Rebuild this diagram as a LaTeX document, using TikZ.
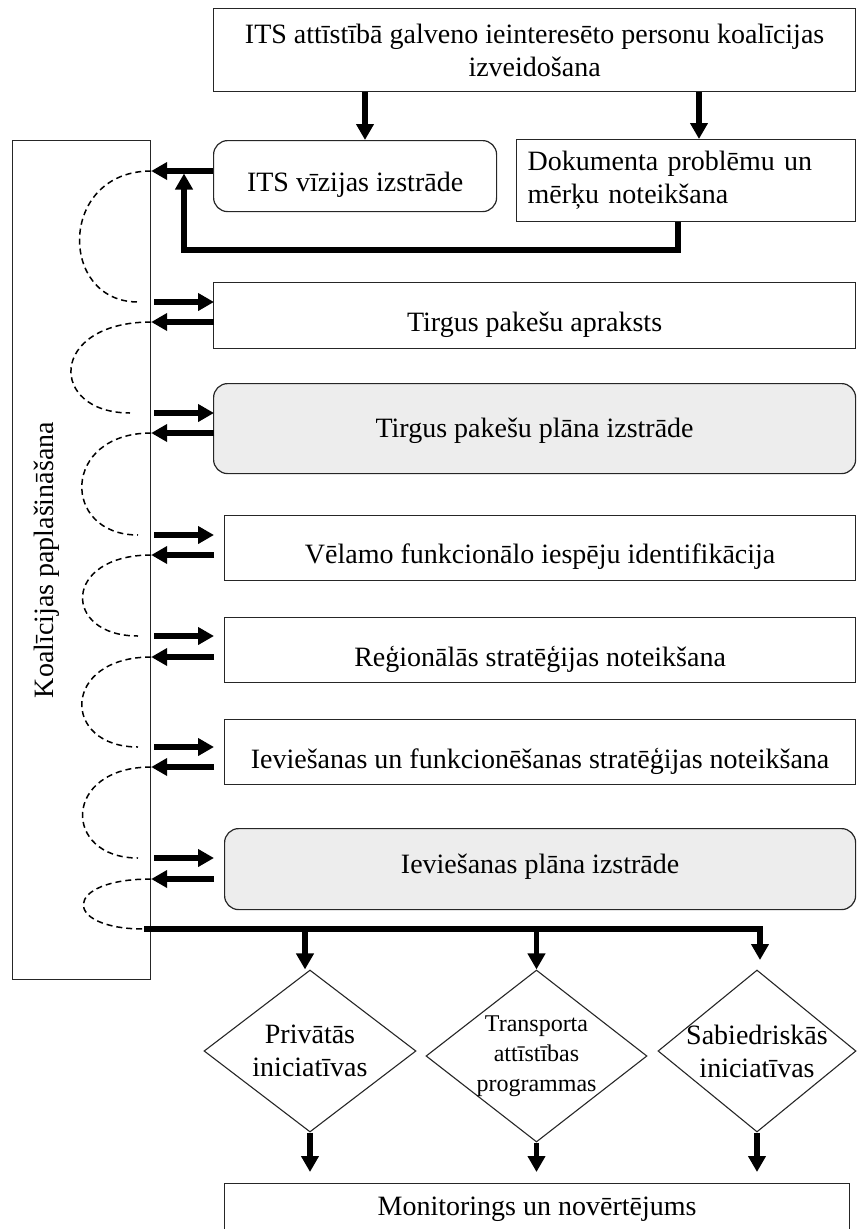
\documentclass[tikz,border=0pt]{standalone}
\usepackage{fontspec}
\setmainfont{Liberation Serif}
\usetikzlibrary{positioning,arrows.meta,shapes.geometric}
\definecolor{koalLine}{HTML}{262626}
\definecolor{koalFill}{HTML}{EDEDED}

\begin{document}
\begin{tikzpicture}[x=1pt, y=-1pt,
  procbox/.style={draw=koalLine, line width=1.2pt, anchor=north west, inner sep=0pt,
    align=center, font=\fontsize{28}{33}\selectfont},
  roundbox/.style={procbox, rounded corners=14pt, fill=koalFill},
  choice/.style={draw=koalLine, line width=1.1pt, shape=diamond, inner sep=-10pt,
    align=center, font=\fontsize{28}{33}\selectfont},
  fatarrow/.style={line width=5.5pt, -{Triangle[length=16pt,width=17pt]}},
  loopline/.style={line width=1.5pt, dash pattern=on 6pt off 4pt}]

% --- PARAMETERS ---
\def\xR{855}            % right edge of all boxes
\useasboundingbox (0,0) rectangle (857,1229);
\clip (0,0) rectangle (857,1229);
\coordinate (tipcol) at (214,0);

% --- TOP ROW ---
\node[procbox, minimum width=642pt, minimum height=83pt, yshift=0pt] (top) at (213,8)
  {ITS attīstībā galveno ieinteresēto personu koalīcijas\\izveidošana};
\node[roundbox, fill=white, minimum width=283pt, minimum height=71pt,
  text height=36pt, text depth=6pt] (vis)
  at (213,140) {ITS vīzijas izstrāde};
\node[procbox, minimum width=339pt, minimum height=82pt, text width=317pt,
  align=left, inner xsep=11pt] (doc) at (516,139)
  {Dokumenta problēmu un\\mērķu noteikšana};

\draw[fatarrow] (top.south -| 365,0) -- (vis.north -| 365,0);
\draw[fatarrow] (top.south -| 699,0) -- (doc.north -| 699,0);

% --- COALITION COLUMN ---
\node[procbox, minimum width=138pt, minimum height=839pt] (koal) at (12,140) {};
\node[rotate=90, font=\fontsize{28}{33}\selectfont] (koaltxt) at (koal.center -| 47,0)
  {Koalīcijas paplašināšana};

% --- FEEDBACK ---
\coordinate (fbcorner) at (184,250);
\draw[fatarrow] (vis.west |- 0,171) -- (koal.east |- 0,171);
\draw[fatarrow, shorten >=2.5pt] (doc.south -| 678,0) |- (fbcorner)
  -- (fbcorner |- 0,171);

% --- STEPS (box + two arrows each; \th lifts or drops the text) ---
\foreach \nm/\xl/\yt/\h/\sty/\th/\ya/\yb/\txt in {
  apr/213/282/66/procbox/37/302/322/Tirgus pakešu apraksts,
  pln/213/383/90/roundbox/23/413/433/Tirgus pakešu plāna izstrāde,
  vel/224/515/65/procbox/37/535/555/Vēlamo funkcionālo iespēju identifikācija,
  reg/224/617/65/procbox/38/636/657/Reģionālās stratēģijas noteikšana,
  iev/224/719/65/procbox/38/747/767/Ieviešanas un funkcionēšanas stratēģijas noteikšana,
  ipl/224/828/81/roundbox/15/858/879/Ieviešanas plāna izstrāde%
} {
  \node[\sty, minimum width={(\xR-\xl)*1pt}, minimum height={\h*1pt},
    text height={\th*1pt}, text depth=6pt] (\nm) at (\xl,\yt) {\txt};
  \draw[fatarrow, shorten <=3pt] (koal.east |- 0,\ya) -- (tipcol |- 0,\ya);
  \draw[fatarrow] (tipcol |- 0,\yb) -- (koal.east |- 0,\yb);
}

% --- DASHED LOOPS ---
\foreach \ya/\yb/\cx/\xe in {171/302/58/138, 322/413/48/130, 433/535/61/138,
  555/636/62/138, 657/747/61/138, 767/858/62/138, 879/929/62/144} {
  \draw[loopline] (koal.east |- 0,\ya) .. controls (\cx,\ya) and (\cx,\yb) .. (\xe,\yb);
}

% --- INITIATIVES ---
\node[choice, minimum width=212pt, minimum height=162pt, aspect=1.31] (d1)
  at (310,1051) {Privātās\\iniciatīvas};
\node[choice, minimum width=221pt, minimum height=172pt, aspect=1.28,
  font=\fontsize{24}{30}\selectfont] (d2)
  at (536.5,1056) {Transporta\\attīstības\\programmas};
\node[choice, minimum width=198pt, minimum height=162pt, aspect=1.22] (d3)
  at (757,1051) {Sabiedriskās\\iniciatīvas};

\coordinate (barL) at (144,929);
\coordinate (d3in) at (760,960);
\draw[fatarrow] (barL) -| (d3in);
\draw[fatarrow] (barL -| 305,0) -- (d1.north -| 305,0);
\draw[fatarrow] (barL -| d2.north) -- (d2.north);

% --- MONITORING ---
\node[procbox, minimum width=625pt, minimum height=52pt] (mon) at (224,1183)
  {Monitorings un novērtējums};
\foreach \d in {d1,d2,d3}
  \draw[fatarrow, shorten >=11pt] (\d.south) -- (\d.south |- mon.north);

\end{tikzpicture}
\end{document}
